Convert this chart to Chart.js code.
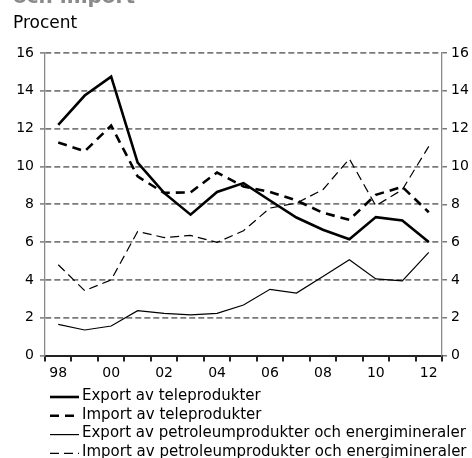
<!DOCTYPE html>
<html>
<head>
<meta charset="utf-8">
<script src="https://cdn.jsdelivr.net/npm/chart.js@4"></script>
<style>
html,body{margin:0;padding:0;background:#fff;}
#wrap{width:472px;height:458px;position:relative;}
</style>
</head>
<body>
<div id="wrap"><canvas id="c" width="472" height="458"></canvas></div>
<script>
const years = ['98','99','00','01','02','03','04','05','06','07','08','09','10','11','12'];
const exportTele = [12.2, 13.75, 14.75, 10.2, 8.6, 7.45, 8.65, 9.12, 8.2, 7.3, 6.65, 6.15, 7.32, 7.14, 6.0];
const importTele = [11.27, 10.8, 12.16, 9.47, 8.6, 8.63, 9.68, 8.94, 8.65, 8.2, 7.55, 7.18, 8.5, 8.92, 7.58];
const exportPetro = [1.65, 1.35, 1.56, 2.37, 2.23, 2.15, 2.23, 2.67, 3.5, 3.3, 4.18, 5.06, 4.05, 3.95, 5.45];
const importPetro = [4.8, 3.43, 4.0, 6.56, 6.24, 6.35, 5.98, 6.6, 7.8, 8.06, 8.77, 10.4, 7.92, 8.77, 11.06];
const seriesNames = ['Export av teleprodukter','Import av teleprodukter','Export av petroleumprodukter och energimineraler','Import av petroleumprodukter och energimineraler'];
const titleText = 'och import';
const unitText = 'Procent';
const yMin = 0, yMax = 16, yStep = 2;

const FONT = 'DejaVu Sans, Verdana, sans-serif';

const textPlugin = {
  id: 'texts',
  afterDraw(chart) {
    const ctx = chart.ctx;
    ctx.save();
    ctx.fillStyle = '#8a8a8a';
    ctx.font = 'bold 20px ' + FONT;
    ctx.textBaseline = 'alphabetic';
    ctx.textAlign = 'left';
    ctx.fillText(titleText, 13, 3);
    ctx.fillStyle = '#000';
    ctx.font = '17px ' + FONT;
    ctx.fillText(unitText, 13, 28);
    // legend
    ctx.font = '15px ' + FONT;
    ctx.textBaseline = 'middle';
    chart.data.datasets.forEach((ds, i) => {
      const y = 396 + i * 18.8;
      ctx.beginPath();
      ctx.strokeStyle = ds.borderColor;
      ctx.lineWidth = ds.borderWidth;
      ctx.setLineDash(ds.borderDash || []);
      ctx.moveTo(50, y + 1);
      ctx.lineTo(79, y + 1);
      ctx.stroke();
      ctx.setLineDash([]);
      ctx.fillStyle = '#000';
      ctx.fillText(ds.label, 82, y);
    });
    ctx.restore();
  }
};

const yTicks = {
  color: '#000',
  font: {family: FONT, size: 14},
  stepSize: yStep,
  padding: 6
};

new Chart(document.getElementById('c'), {
  type: 'line',
  data: {
    labels: years,
    datasets: [
      {label: seriesNames[0], data: exportTele, borderColor: '#000', borderWidth: 2.6, borderDash: [], pointRadius: 0, tension: 0, fill: false},
      {label: seriesNames[1], data: importTele, borderColor: '#000', borderWidth: 2.6, borderDash: [9, 6], pointRadius: 0, tension: 0, fill: false},
      {label: seriesNames[2], data: exportPetro, borderColor: '#000', borderWidth: 1.2, borderDash: [], pointRadius: 0, tension: 0, fill: false},
      {label: seriesNames[3], data: importPetro, borderColor: '#000', borderWidth: 1.2, borderDash: [9, 5], pointRadius: 0, tension: 0, fill: false}
    ]
  },
  options: {
    responsive: false,
    animation: false,
    layout: {padding: {top: 53, left: 0, right: 0, bottom: 0}},
    plugins: {legend: {display: false}, tooltip: {enabled: false}, title: {display: false}},
    scales: {
      x: {
        type: 'category',
        offset: true,
        afterFit(s) { s.height = 102.5; },
        grid: {offset: true, drawOnChartArea: false, drawTicks: true, tickLength: 6, color: '#222', lineWidth: 2},
        border: {display: true, color: '#222', width: 2},
        ticks: {
          color: '#000', font: {family: FONT, size: 14}, padding: 3, maxRotation: 0, autoSkip: false,
          callback(v, i) { return i % 2 === 0 ? years[i] : ''; }
        }
      },
      y: {
        position: 'left',
        min: yMin, max: yMax,
        afterFit(s) { s.width = 45; },
        grid: {
          drawOnChartArea: true, drawTicks: true, tickLength: 5,
          color: (c) => c.tick && c.tick.value === 0 ? 'rgba(0,0,0,0)' : '#7a7a7a',
          tickColor: '#7a7a7a',
          lineWidth: 1.8, tickWidth: 1.5
        },
        border: {display: true, color: '#8a8a8a', width: 1.3, dash: [6, 3]},
        ticks: yTicks
      },
      y2: {
        position: 'right',
        min: yMin, max: yMax,
        afterFit(s) { s.width = 30; },
        grid: {drawOnChartArea: false, drawTicks: true, tickLength: 5, color: '#7a7a7a', lineWidth: 1.5},
        border: {display: true, color: '#8a8a8a', width: 1.3},
        ticks: Object.assign({}, yTicks, {padding: 4})
      }
    }
  },
  plugins: [textPlugin]
});
</script>
</body>
</html>
